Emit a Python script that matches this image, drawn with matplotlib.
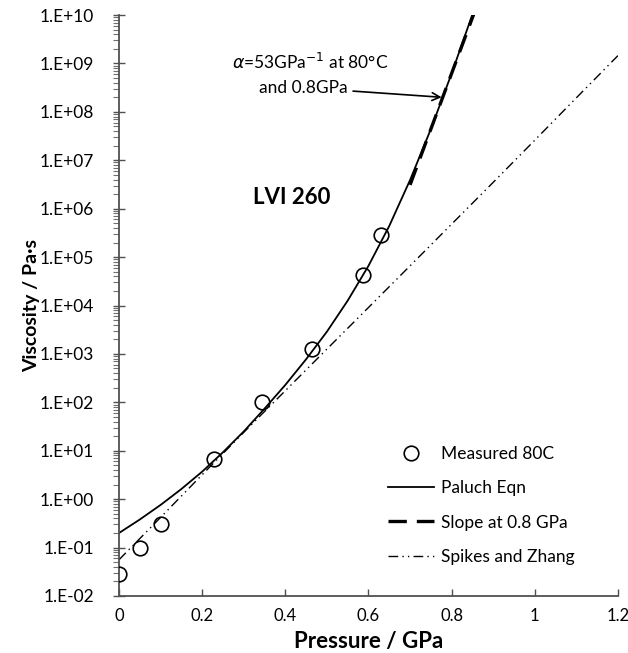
import matplotlib
matplotlib.use("Agg")
import matplotlib.pyplot as plt
from matplotlib.ticker import FuncFormatter, LogLocator, NullLocator
import numpy as np

plt.rcParams['font.family'] = ['Lato', 'DejaVu Sans']

# measured viscosity at 80C
meas_p = [0.0, 0.05, 0.10, 0.229, 0.345, 0.465, 0.586, 0.631]
meas_visc = [0.028, 0.10, 0.31, 6.8, 100, 1260, 4.3e4, 2.9e5]

# Paluch equation curve
paluch_p = [0.0, 0.05, 0.10, 0.15, 0.20, 0.25, 0.30, 0.35, 0.40, 0.45,
            0.50, 0.55, 0.60, 0.65, 0.70, 0.75, 0.80, 0.86]
paluch_visc = [0.20, 0.38, 0.76, 1.62, 3.7, 9.3, 25, 74, 229, 776,
               2880, 1.26e4, 6.6e4, 4.4e5, 3.9e6, 4.4e7, 6.2e8, 1.8e10]

# slope at 0.8 GPa (alpha = 53 /GPa)
slope_p = [0.70, 0.86]
slope_visc = [3.1e6, 1.5e10]

# Spikes and Zhang
sz_p = [0.0, 0.1, 0.2, 0.3, 0.4, 0.5, 0.6, 0.7, 0.8, 0.9, 1.0, 1.1, 1.2]
sz_visc = [0.056, 0.42, 3.2, 24, 174, 1260, 9100, 6.6e4, 4.8e5,
           3.5e6, 2.6e7, 1.95e8, 1.45e9]

fig = plt.figure(figsize=(6.28, 6.53), dpi=100)
ax = fig.add_axes([0.1895, 0.0873, 0.7945, 0.8897])

ax.plot(meas_p, meas_visc, 'o', mfc='none', mec='black', ms=10.5, mew=1.2,
        label='Measured 80C', zorder=4)
ax.plot(paluch_p, paluch_visc, '-', color='black', lw=1.3, label='Paluch Eqn')
ax.plot(slope_p, slope_visc, color='black', lw=2.4, dashes=(5.5, 3),
        label='Slope at 0.8 GPa')
ax.plot(sz_p, sz_visc, color='black', lw=1.0, dashes=(7, 3, 1, 3, 1, 3),
        label='Spikes and Zhang')

ax.set_yscale('log')
ax.set_xlim(0, 1.2)
ax.set_ylim(1e-2, 1e10)

ax.set_xticks(np.arange(0, 1.21, 0.2))
ax.xaxis.set_major_formatter(FuncFormatter(lambda v, pos: '%g' % round(v, 1)))
ax.yaxis.set_major_locator(LogLocator(base=10, numticks=20))
ax.yaxis.set_minor_locator(LogLocator(base=10, subs=np.arange(2, 10), numticks=20))
ax.yaxis.set_major_formatter(FuncFormatter(lambda v, pos: '1.E%+03d' % int(round(np.log10(v)))))
ax.xaxis.set_minor_locator(NullLocator())

ax.tick_params(axis='x', direction='in', length=5, width=1, color='#505050',
               labelsize=12, pad=9)
ax.tick_params(axis='y', which='major', direction='inout', length=8, width=1,
               color='#505050', labelsize=12.5, pad=14)
ax.tick_params(axis='y', which='minor', direction='out', length=4, width=0.8,
               color='#707070')

for side in ['top', 'right']:
    ax.spines[side].set_visible(False)
for side in ['left', 'bottom']:
    ax.spines[side].set_color('#505050')
    ax.spines[side].set_linewidth(1.3)

ax.set_xlabel('Pressure / GPa', fontsize=16, fontweight='bold', labelpad=5)
ax.set_ylabel('Viscosity / Pa·s', fontsize=14, fontweight='bold', labelpad=0)

ax.text(0.415, 10**6.24, 'LVI 260', fontsize=16, fontweight='bold',
        ha='center', va='center')
ax.text(0.46, 10**9.03, r'$\it{\alpha}$=53GPa$^{-1}$ at 80°C', fontsize=12.5,
        ha='center', va='center')
ax.annotate('and 0.8GPa', xy=(0.776, 2.0e8), xytext=(0.443, 10**8.5),
            fontsize=12.5, ha='center', va='center',
            arrowprops=dict(arrowstyle='->', color='black', lw=1.2,
                            shrinkA=2, shrinkB=0, mutation_scale=14))

leg = ax.legend(loc='upper left', bbox_to_anchor=(0.54, 0.258), frameon=False,
                fontsize=12.5, handlelength=2.6, labelspacing=1.05,
                handletextpad=0.4, borderpad=0, borderaxespad=0)

fig.savefig('out.png', dpi=100)
